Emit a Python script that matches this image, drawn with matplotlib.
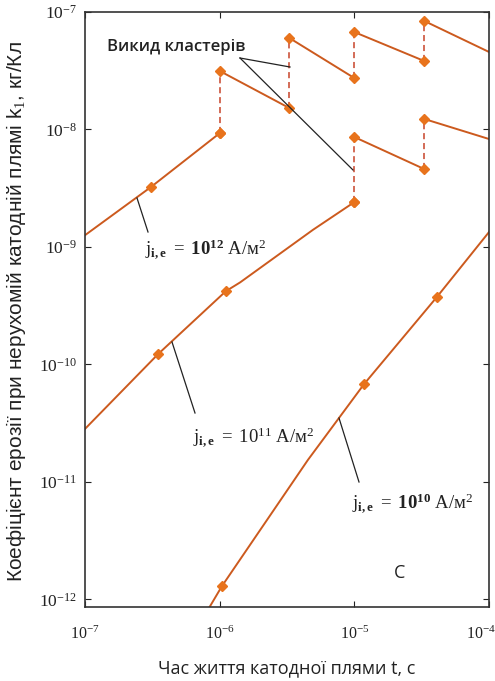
import matplotlib
matplotlib.use("Agg")
import matplotlib.pyplot as plt
from matplotlib.ticker import FixedLocator, FixedFormatter, NullLocator

plt.rcParams['mathtext.fontset'] = 'custom'
plt.rcParams['mathtext.rm'] = 'Liberation Serif'
plt.rcParams['mathtext.it'] = 'Liberation Serif:italic'
plt.rcParams['mathtext.bf'] = 'Liberation Serif:bold'

# ---- data ----
# j = 1e12 A/m^2, continuous part
t12 = [1e-7, 3.1e-7, 1e-6]
k12 = [1.26e-9, 3.25e-9, 9.3e-9]
t12_mark = [3.1e-7, 1e-6]
k12_mark = [3.25e-9, 9.3e-9]

# j = 1e12 cluster ejection segments (start, end)
t12_seg_start = [1e-6, 3.3e-6, 1e-5, 3.3e-5]
t12_seg_end = [3.3e-6, 1e-5, 3.3e-5, 1e-4]
k12_seg_start = [3.15e-8, 6.0e-8, 6.75e-8, 8.4e-8]
k12_seg_end = [1.52e-8, 2.74e-8, 3.83e-8, 4.57e-8]
# dashed jumps: before -> after
t12_jump = [1e-6, 3.3e-6, 1e-5, 3.3e-5]
k12_jump_low = [9.3e-9, 1.52e-8, 2.74e-8, 3.83e-8]
k12_jump_high = [3.15e-8, 6.0e-8, 6.75e-8, 8.4e-8]

# j = 1e11 A/m^2
t11 = [1e-7, 3.5e-7, 1.11e-6, 1.42e-6, 4.93e-6, 1e-5]
k11 = [2.83e-11, 1.23e-10, 4.2e-10, 5.0e-10, 1.4e-9, 2.41e-9]
t11_mark = [3.5e-7, 1.11e-6, 1e-5]
k11_mark = [1.23e-10, 4.2e-10, 2.41e-9]
t11_seg_start = [1e-5, 3.3e-5]
t11_seg_end = [3.3e-5, 1e-4]
k11_seg_start = [8.63e-9, 1.23e-8]
k11_seg_end = [4.61e-9, 8.3e-9]
t11_jump = [1e-5, 3.3e-5]
k11_jump_low = [2.41e-9, 4.61e-9]
k11_jump_high = [8.63e-9, 1.23e-8]

# j = 1e10 A/m^2
t10 = [8.2e-7, 1.04e-6, 4.52e-6, 1.18e-5, 4.1e-5, 1e-4]
k10 = [8.2e-13, 1.3e-12, 1.54e-11, 6.8e-11, 3.75e-10, 1.34e-9]
t10_mark = [1.04e-6, 1.18e-5, 4.1e-5]
k10_mark = [1.3e-12, 6.8e-11, 3.75e-10]

xticks = [1e-7, 1e-6, 1e-5, 1e-4]
xtick_labels = [r'$10^{-7}$', r'$10^{-6}$', r'$10^{-5}$', r'$10^{-4}$']
yticks = [1e-12, 1e-11, 1e-10, 1e-9, 1e-8, 1e-7]
ytick_labels = [r'$10^{-12}$', r'$10^{-11}$', r'$10^{-10}$', r'$10^{-9}$', r'$10^{-8}$', r'$10^{-7}$']

LINE = '#CC5A1E'
MARK = '#E8731C'
DASH = '#C8442A'

fig = plt.figure(figsize=(4.95, 6.81), dpi=100)
ax = fig.add_axes([85/495, 1-607/681, (489-85)/495, (607-12)/681])
ax.set_xscale('log')
ax.set_yscale('log')
ax.set_xlim(1e-7, 1e-4)
ax.set_ylim(10**-12.064, 1e-7)

mk = dict(marker='D', markersize=5, color=MARK, linestyle='none', zorder=4)

# 1e12
ax.plot(t12, k12, color=LINE, lw=1.4)
ax.plot(t12_mark, k12_mark, **mk)
for ts, te, ks, ke in zip(t12_seg_start, t12_seg_end, k12_seg_start, k12_seg_end):
    ax.plot([ts, te], [ks, ke], color=LINE, lw=1.4)
for tj, kl, kh in zip(t12_jump, k12_jump_low, k12_jump_high):
    ax.plot([tj, tj], [kl, kh], color=DASH, lw=1.1, ls=(0, (4, 2.5)))
    ax.plot([tj, tj], [kl, kh], **mk)

# 1e11
ax.plot(t11, k11, color=LINE, lw=1.4)
ax.plot(t11_mark, k11_mark, **mk)
for ts, te, ks, ke in zip(t11_seg_start, t11_seg_end, k11_seg_start, k11_seg_end):
    ax.plot([ts, te], [ks, ke], color=LINE, lw=1.4)
for tj, kl, kh in zip(t11_jump, k11_jump_low, k11_jump_high):
    ax.plot([tj, tj], [kl, kh], color=DASH, lw=1.1, ls=(0, (4, 2.5)))
    ax.plot([tj, tj], [kl, kh], **mk)

# 1e10
ax.plot(t10, k10, color=LINE, lw=1.4)
ax.plot(t10_mark, k10_mark, **mk)

# ticks
ax.xaxis.set_major_locator(FixedLocator(xticks))
ax.xaxis.set_major_formatter(FixedFormatter(xtick_labels[:-1] + ['']))
ax.yaxis.set_major_locator(FixedLocator(yticks))
ax.yaxis.set_major_formatter(FixedFormatter(ytick_labels))
ax.xaxis.set_minor_locator(NullLocator())
ax.yaxis.set_minor_locator(NullLocator())
ax.tick_params(which='major', direction='in', length=4, width=0.8,
               top=True, right=True, colors='#222222')
ax.tick_params(axis='x', pad=13, labelsize=11.5)
ax.tick_params(axis='y', pad=6, labelsize=12.5)
for s in ax.spines.values():
    s.set_linewidth(1.2)
    s.set_color('#333333')

ax.set_xlabel('Час життя катодної плями t, с', fontsize=13,
              family=['Open Sans', 'DejaVu Sans'], labelpad=12, color='#222222')
ax.set_ylabel('Коефіцієнт ерозії при нерухомій катодній плямі k$_1$, кг/Кл',
              fontsize=15, family=['Liberation Sans', 'DejaVu Sans'], color='#222222')
ax.yaxis.set_label_coords(-0.142, 0.497)

# helpers for pixel placement of annotations
def px(x, y):
    return fig.transFigure.inverted().transform(fig.dpi_scale_trans.transform((x/100, (681-y)/100)))

# last x tick label shifted left to stay in the picture (as in the reference)
p = px(481, 633)
fig.text(p[0], p[1], xtick_labels[-1], fontsize=11.5, color='#222222', ha='center', va='center')

def fline(p0, p1):
    a = px(*p0); b = px(*p1)
    fig.add_artist(plt.Line2D([a[0], b[0]], [a[1], b[1]], color='#222222', lw=0.9, transform=fig.transFigure))

fline((240, 58), (290, 67))
fline((240, 58), (353, 170))
fline((137, 198), (148, 232))
fline((172, 342), (195, 413))
fline((339, 418), (359, 482))

tx = dict(transform=fig.transFigure, fontsize=13.5, color='#222222', va='center', ha='left')
p = px(107, 47)
fig.text(p[0], p[1], 'Викид кластерів', family=['Open Sans', 'DejaVu Sans'],
         **dict(tx, fontsize=12, fontweight='semibold'))
p = px(145, 249)
fig.text(p[0], p[1], r'$\mathrm{j}_{\mathbf{i,e}}\ =\ \mathbf{10^{12}}\ \mathrm{А/м^2}$', **tx)
p = px(193, 437)
fig.text(p[0], p[1], r'$\mathrm{j}_{\mathbf{i,e}}\ =\ \mathrm{10^{11}}\ \mathrm{А/м^2}$', **tx)
p = px(352, 503)
fig.text(p[0], p[1], r'$\mathrm{j}_{\mathbf{i,e}}\ =\ \mathbf{10^{10}}\ \mathrm{А/м^2}$', **tx)
p = px(394, 573)
fig.text(p[0], p[1], 'C', family=['Open Sans', 'DejaVu Sans'], **dict(tx, fontsize=13))

fig.savefig('out.png', dpi=100)
